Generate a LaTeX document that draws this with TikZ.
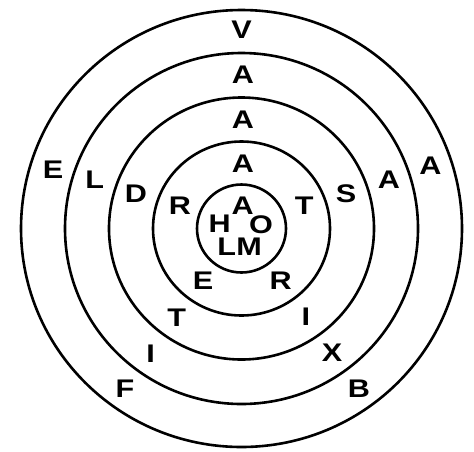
\documentclass[tikz,border=0pt]{standalone}
\usepackage{fontspec}
\setmainfont{Liberation Sans}
\newfontfamily\wideletters{Liberation Sans Bold}[FakeStretch=1.2]
\begin{document}
\begin{tikzpicture}[x=1pt,y=-1pt,
  ring/.style={line width=2.6pt},
  letter/.style={inner sep=0pt,font=\wideletters\fontsize{25.5}{25.5}\selectfont}]
\useasboundingbox (0,0) rectangle (474,451);
\coordinate (c) at (241.5,228.5);
\draw[ring] (c) ellipse [x radius=44.5, y radius=44];
\draw[ring] (c) ellipse [x radius=88.5, y radius=87];
\draw[ring] (c) ellipse [x radius=132.5, y radius=131];
\draw[ring] (c) ellipse [x radius=176.5, y radius=175.5];
\draw[ring] (c) ellipse [x radius=220.5, y radius=218.5];
% top column
\node[letter] (v)  at (241.7,30) {V};
\node[letter] (a1) at (243,75) {A};
\node[letter] (a2) at (243,120) {A};
\node[letter] (a3) at (243,163.5) {A};
% left upper
\node[letter] (e1) at (53,169.5) {E};
\node[letter] (l1) at (94.7,180) {L};
\node[letter] (d)  at (135.8,193.7) {D};
\node[letter] (r1) at (180,206.2) {R};
% right upper
\node[letter] (t1) at (304.2,206.2) {T};
\node[letter] (s)  at (346.2,193.7) {S};
\node[letter] (a4) at (388.8,180) {A};
\node[letter] (a5) at (430.3,166.2) {A};
% centre
\node[letter] (a6) at (242.7,206.2) {A};
\node[letter] (h)  at (219.7,223.5) {H};
\node[letter] (o)  at (261,224.5) {O};
\node[letter] (l2) at (226.7,247.2) {L};
\node[letter] (m)  at (249.2,247.2) {M};
% lower left
\node[letter] (e2) at (203,281.2) {E};
\node[letter] (t2) at (176.7,317.5) {T};
\node[letter] (i1) at (150.5,353.3) {I};
\node[letter] (f)  at (125,388.3) {F};
% lower right
\node[letter] (r2) at (280.7,281.2) {R};
\node[letter] (i2) at (305.8,316.8) {I};
\node[letter] (x)  at (332.2,352.8) {X};
\node[letter] (b)  at (358.8,388.3) {B};
\end{tikzpicture}
\end{document}
